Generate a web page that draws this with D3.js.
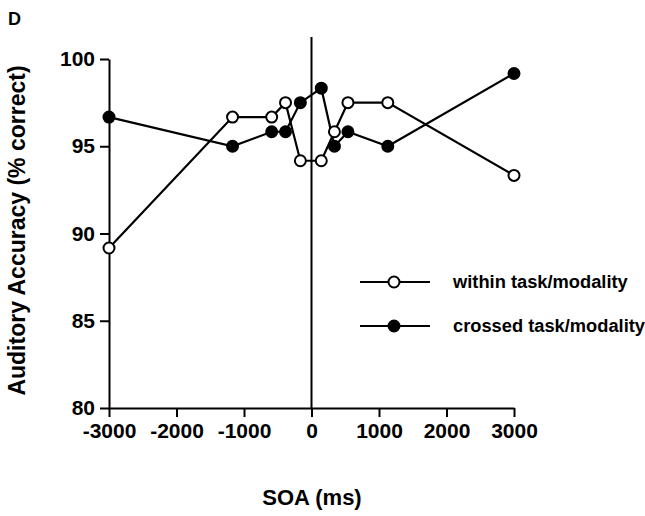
<!DOCTYPE html>
<html>
<head>
<meta charset="utf-8">
<script src="https://cdn.jsdelivr.net/npm/d3@7"></script>
<style>
  html, body { margin: 0; padding: 0; background: #fff; }
  svg { display: block; font-family: "Liberation Sans", Arial, Helvetica, sans-serif; font-weight: bold; }
</style>
</head>
<body>
<svg id="chart" width="645" height="516"></svg>
<script>
// SOA conditions (ms) and accuracy per condition
const soa = [-3000, -1170, -590, -385, -165, 145, 340, 540, 1130, 3000];
const withinTask = [89.17, 96.67, 96.67, 97.5, 94.17, 94.17, 95.83, 97.5, 97.5, 93.33];
const crossedTask = [96.67, 95.0, 95.83, 95.83, 97.5, 98.33, 95.0, 95.83, 95.0, 99.17];
const xTicks = [-3000, -2000, -1000, 0, 1000, 2000, 3000];
const yTicks = [80, 85, 90, 95, 100];
const seriesNames = ["within task/modality", "crossed task/modality"];

const svg = d3.select("#chart");

const x = d3.scaleLinear().domain([-3000, 3000]).range([109, 514]);
const y = d3.scaleLinear().domain([80, 100]).range([408, 59]);

// minor ticks
const xMinor = d3.range(-2500, 3000, 1000);
const yMinor = d3.range(82.5, 100, 5);

// plain hyphen for negative labels
const plain = d => String(d);

const gx = svg.append("g").attr("transform", `translate(0,${y(80)})`);
gx.call(d3.axisBottom(x).tickValues(xMinor).tickSize(5).tickFormat(""));
gx.call(d3.axisBottom(x).tickValues(xTicks).tickSize(9).tickSizeOuter(0).tickPadding(6).tickFormat(plain));

const gy = svg.append("g").attr("transform", `translate(${x(-3000)},0)`);
gy.call(d3.axisLeft(y).tickValues(yMinor).tickSize(5).tickFormat(""));
gy.call(d3.axisLeft(y).tickValues(yTicks).tickSize(9).tickSizeOuter(0).tickPadding(5).tickFormat(plain));

svg.selectAll(".domain, .tick line").attr("stroke", "#000").attr("stroke-width", 2);
svg.selectAll(".tick text")
  .attr("fill", "#000")
  .style("font-size", "21px")
  .style("font-weight", "bold")
  .style("font-family", "'Liberation Sans', Arial, sans-serif");

// zero-SOA reference line
svg.append("line")
  .attr("x1", x(0)).attr("x2", x(0))
  .attr("y1", 37).attr("y2", y(80))
  .attr("stroke", "#000").attr("stroke-width", 2);

const line = d3.line().x(d => x(d[0])).y(d => y(d[1]));

function drawSeries(values, filled) {
  const pts = soa.map((s, i) => [s, values[i]]);
  svg.append("path").datum(pts)
    .attr("d", line).attr("fill", "none")
    .attr("stroke", "#000").attr("stroke-width", 2.2);
  svg.append("g").selectAll("circle").data(pts).join("circle")
    .attr("cx", d => x(d[0])).attr("cy", d => y(d[1])).attr("r", 5.5)
    .attr("fill", filled ? "#000" : "#fff")
    .attr("stroke", "#000").attr("stroke-width", 2);
}
drawSeries(crossedTask, true);
drawSeries(withinTask, false);

// legend
const legend = svg.append("g");
seriesNames.forEach((name, i) => {
  const ly = 282 + i * 44;
  legend.append("line").attr("x1", 360).attr("x2", 430).attr("y1", ly).attr("y2", ly)
    .attr("stroke", "#000").attr("stroke-width", 2);
  legend.append("circle").attr("cx", 394).attr("cy", ly).attr("r", 5.5)
    .attr("fill", i === 1 ? "#000" : "#fff").attr("stroke", "#000").attr("stroke-width", 2);
  legend.append("text").attr("x", 453).attr("y", ly).attr("dy", "0.35em")
    .style("font-size", "18.3px").text(name);
});

// axis titles and panel letter
svg.append("text")
  .attr("transform", `translate(25,${(y(80) + y(100)) / 2 - 3}) rotate(-90)`)
  .attr("text-anchor", "middle")
  .style("font-size", "23px")
  .text("Auditory Accuracy (% correct)");

svg.append("text")
  .attr("x", 312).attr("y", 505)
  .attr("text-anchor", "middle")
  .style("font-size", "22px")
  .text("SOA (ms)");

svg.append("text")
  .attr("x", 8).attr("y", 25)
  .style("font-size", "18px")
  .text("D");
</script>
</body>
</html>
